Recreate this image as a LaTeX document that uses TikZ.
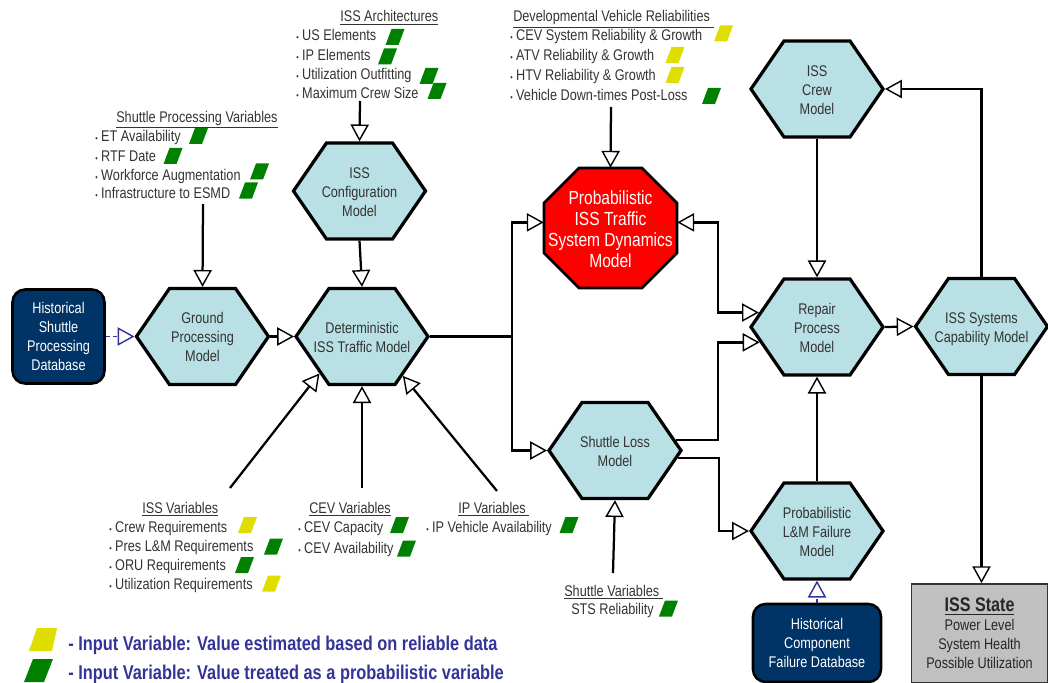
\documentclass[tikz,border=0pt]{standalone}
\usepackage{fontspec}
\setmainfont{Liberation Sans}[FakeStretch=0.82]
\usetikzlibrary{arrows.meta,shapes.symbols}

\definecolor{hexblue}{RGB}{185,224,228}
\definecolor{dbnavy}{RGB}{0,51,102}
\definecolor{stategray}{RGB}{192,192,192}
\definecolor{flagyellow}{RGB}{222,222,0}
\definecolor{flaggreen}{RGB}{0,128,0}
\definecolor{legblue}{RGB}{51,51,153}
\definecolor{txtgray}{RGB}{51,51,51}

\newcommand{\blt}{{\fontsize{6}{6}\selectfont\textbullet}\hspace{2.5pt}}
% centred label that does not widen its shape
\newcommand{\ctext}[2][-4.5pt]{\makebox[0pt]{\raisebox{#1}[0pt][0pt]{\begin{tabular}{@{}c@{}}#2\end{tabular}}}}
% input variable flag: colour, centre x, centre y
\newcommand{\varflag}[3]{\fill[#1] (#2-9.5,#3+8) -- (#2+3.5,#3+8) -- (#2+9.5,#3-8) -- (#2-3.5,#3-8) -- cycle;}

\tikzset{
  hexa/.style={signal, signal to=east and west, signal pointer angle=111,
    draw=black, line width=2.3pt, fill=hexblue, minimum width=3.3cm, minimum height=2.4cm,
    inner sep=1pt, text=txtgray, font=\fontsize{11}{13.5}\selectfont},
  octa/.style={rectangle, minimum width=3.325cm, minimum height=3cm,
    inner sep=0pt, text=white, font=\fontsize{13.5}{15}\selectfont},
  db/.style={rectangle, rounded corners=9pt, draw=black, line width=1.8pt, fill=dbnavy,
    text=white, align=center, font=\fontsize{11}{13.5}\selectfont},
  statebox/.style={rectangle, draw=black!80, line width=1.2pt, fill=stategray,
    minimum width=3.4cm, minimum height=2.475cm, align=center, text=black!85,
    font=\fontsize{11}{13.5}\selectfont},
  vhead/.style={anchor=base west, inner sep=0pt, text=txtgray, font=\fontsize{11}{13.5}\selectfont},
  vitem/.style={anchor=base west, inner sep=0pt, text=txtgray, font=\fontsize{11}{13.5}\selectfont},
  flow/.style={line width=1.6pt, -{Triangle[open, length=12pt, width=13pt, line width=1pt]}},
  both/.style={line width=1.6pt, {Triangle[open, length=12pt, width=13pt, line width=1pt]}-{Triangle[open, length=12pt, width=13pt, line width=1pt]}},
  feed/.style={legblue, line width=1.3pt, densely dashed, -{Triangle[open, length=12pt, width=13pt, line width=1pt]}}
}

\begin{document}
\begin{tikzpicture}[x=0.025cm, y=-0.025cm]
\useasboundingbox (0,0) rectangle (1048,683);

% Models
\node[hexa] (cfg) at (359.5,191) {\ctext{ISS\\Configuration\\Model}};
\node[hexa] (gp) at (202.5,336.5) {\ctext{Ground\\Processing\\Model}};
\node[hexa] (det) at (362,336.5) {\ctext{Deterministic\\ISS Traffic Model}};
% red octagon behind the traffic dynamics model
\filldraw[fill=red, draw=black, line width=2pt] (579,168) -- (642,168) -- (677,203) -- (677,253)
  -- (642,288) -- (579,288) -- (544,253) -- (544,203) -- cycle;
\node[octa] (pst) at (610.5,228) {\ctext[-6.5pt]{Probabilistic\\ISS Traffic\\System Dynamics\\Model}};
\node[hexa] (sl) at (615,450.5) {\ctext{Shuttle Loss\\Model}};
\node[hexa] (crew) at (817,89) {\ctext{ISS\\Crew\\Model}};
\node[hexa] (rep) at (817,327) {\ctext{Repair\\Process\\Model}};
\node[hexa] (cap) at (981.5,326.5) {\ctext{ISS Systems\\Capability Model}};
\node[hexa] (lm) at (817,531) {\ctext{Probabilistic\\L\&M Failure\\Model}};
\node[db, minimum width=2.3cm, minimum height=2.35cm] (hsp) at (58.5,336.5) {Historical\\Shuttle\\Processing\\Database};
\node[db, minimum width=3.2cm, minimum height=1.95cm] (hcf) at (817,643) {Historical\\Component\\Failure Database};
\node[statebox] (state) at (979.5,633.5) {{\fontsize{14}{16}\selectfont\textbf{\underline{ISS State}}}\\Power Level\\System Health\\Possible Utilization};

% Variable lists
\node[vhead] (archh) at (340,22) {\underline{ISS Architectures}};
\foreach \t [count=\i] in {US Elements, IP Elements, Utilization Outfitting, Maximum Crew Size}
  \node[vitem] (arch\i) at (296,{21.7+19.3*\i}) {\blt\t};
\node[vhead] (spvh) at (116,122) {\underline{Shuttle Processing Variables}};
\foreach \t [count=\i] in {ET Availability, RTF Date, Workforce Augmentation, Infrastructure to ESMD}
  \node[vitem] (spv\i) at (95,{123+19*\i}) {\blt\t};
\node[vhead] (dvrh) at (513,22) {\underline{Developmental Vehicle Reliabilities\ }};
\foreach \t [count=\i] in {CEV System Reliability \& Growth, ATV Reliability \& Growth, HTV Reliability \& Growth, Vehicle Down-times Post-Loss}
  \node[vitem] (dvr\i) at (510,{21.3+19.7*\i}) {\blt\t};
\node[vhead] (issvh) at (142,513) {\underline{ISS Variables}};
\foreach \t [count=\i] in {Crew Requirements, Pres L\&M Requirements, ORU Requirements, Utilization Requirements}
  \node[vitem] (issv\i) at (109,{512.7+19.3*\i}) {\blt\t};
\node[vhead] (cevh) at (309,513) {\underline{CEV Variables}};
\foreach \t [count=\i] in {CEV Capacity, CEV Availability}
  \node[vitem] (cev\i) at (298,{511+21*\i}) {\blt\t};
\node[vhead] (iph) at (458,513) {\underline{IP Variables\ }};
\node[vitem] (ip1) at (426,532) {\blt IP Vehicle Availability};
\node[vhead] (svh) at (564,596) {\underline{Shuttle Variables\ }};
\node[vitem] (sv1) at (571,614) {STS Reliability};

% Flags
\varflag{flaggreen}{395}{37}
\varflag{flaggreen}{387.5}{56.5}
\varflag{flaggreen}{429}{76}
\varflag{flaggreen}{437}{91}
\varflag{flaggreen}{198.5}{136}
\varflag{flaggreen}{173}{156}
\varflag{flaggreen}{259.5}{171.5}
\varflag{flaggreen}{248.5}{190.5}
\varflag{flagyellow}{723.5}{33.5}
\varflag{flagyellow}{675}{55}
\varflag{flagyellow}{675}{75}
\varflag{flaggreen}{711.5}{96}
\varflag{flagyellow}{247.5}{525}
\varflag{flaggreen}{273.5}{546.5}
\varflag{flaggreen}{244.5}{565}
\varflag{flagyellow}{271.5}{583.5}
\varflag{flaggreen}{399.5}{525}
\varflag{flaggreen}{406.5}{548.5}
\varflag{flaggreen}{569}{525}
\varflag{flaggreen}{668.5}{608.5}

% Legend
\fill[flagyellow] (29,651) -- (52,651) -- (57,628) -- (37,628) -- cycle;
\fill[flaggreen] (24,682) -- (44,682) -- (53,659) -- (33,659) -- cycle;
\node[vhead, text=legblue, font=\fontsize{14.2}{16}\selectfont\bfseries] (leg1) at (68,650) {- Input Variable: Value estimated based on reliable data};
\node[vhead, text=legblue, font=\fontsize{14.2}{16}\selectfont\bfseries] (leg2) at (68,679) {- Input Variable: Value treated as a probabilistic variable};

% Arrows
\coordinate (archend) at (360,101);
\coordinate (spvend) at (203,204);
\coordinate (dvrend) at (611,107);
\coordinate (issvend) at (230,488);
\coordinate (cevend) at (362,488);
\coordinate (ipend) at (497,491);
\coordinate (svend) at (613,573);
\coordinate (split) at (512,336.5);

\draw[flow] (archend) -- (cfg.north);
\draw[flow] (spvend) -- (gp.north);
\draw[flow] (cfg.south) -- (det.north);
\draw[feed] (hsp.east) -- (gp.west);
\draw[flow] (gp.east) -- (det.west);
\draw[line width=1.6pt] (det.east) -- (split);
\draw[flow] (split) |- ([yshift=4pt]pst.west);
\draw[flow] (split) |- (sl.west);
\draw[flow] (dvrend) -- (pst.north);
\draw[both] ([yshift=4pt]pst.east) -- ++(41,0) |- (rep.166);
\draw[flow] (sl.10) -- ++(42,0) |- (rep.195);
\draw[flow] (sl.-7) -- ++(41,0) |- (lm.west);
\draw[flow] (svend) -- (sl.south);
\draw[flow] (crew.south) -- (rep.north);
\draw[flow] (rep.east) -- (cap.west);
\draw[flow] (cap.north) |- (crew.east);
\draw[flow] (cap.south) -- (cap.south |- state.north);
\draw[flow] (lm.north) -- (rep.south);
\draw[feed] (hcf.north) -- (lm.south);
\draw[flow] (issvend) -- (det.221);
\draw[flow] (cevend) -- (det.south);
\draw[flow] (ipend) -- (det.-44);

\end{tikzpicture}
\end{document}
